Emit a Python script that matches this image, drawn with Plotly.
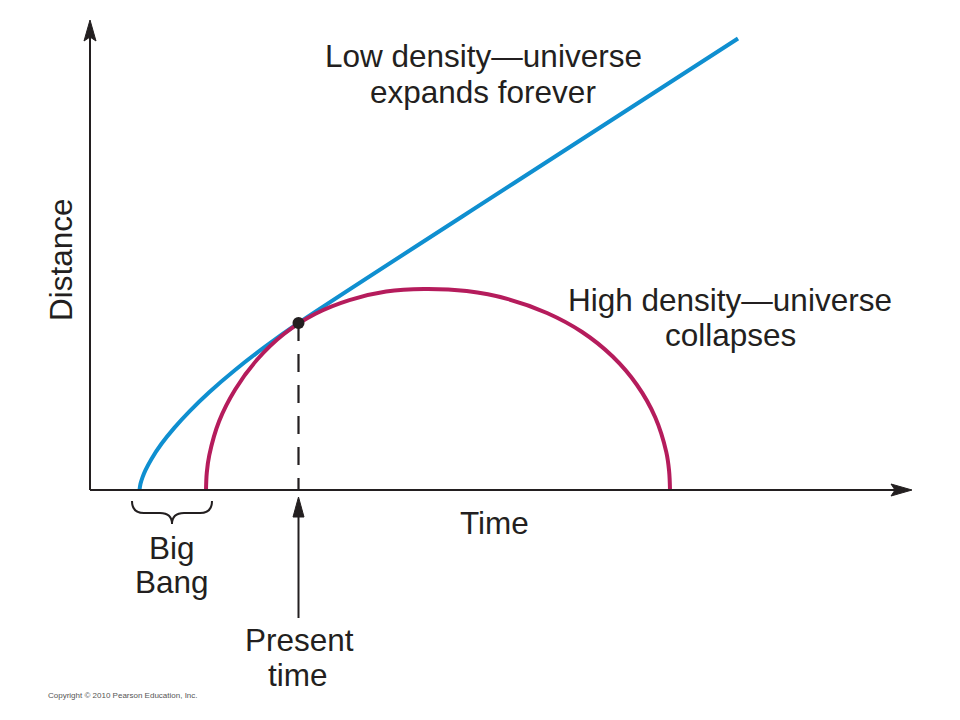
import plotly.graph_objects as go

# ---- Values (time / distance units, origin at the axes corner) ----
low_time = [49.5, 50.5, 52.5, 55.5, 61.5, 71.5, 84.5, 99.5, 119.5, 144.5, 174.5, 208.5, 428, 648]
low_dist = [0, 6.2, 12.6, 19.8, 31.1, 46.2, 62.4, 78.7, 98.0, 119.5, 142.8, 167, 309.5, 451.5]

high_time = [116, 116.8, 119.3, 129.1, 145.2, 167, 193.9, 225, 259.4, 296.1, 334,
             376.7, 418.1, 457, 492.1, 522.4, 547, 565.2, 576.3, 579.1, 580]
high_dist = [0, 17.5, 34.9, 68.7, 100.5, 130.2, 156, 176, 189.9, 198.4, 201,
             198.9, 190.9, 177, 158, 133.7, 105, 72.7, 37.9, 19, 0]

present_time = 208.5
present_dist = 167
big_bang_span = [42, 122]

time_axis_end = 822
dist_axis_end = 470

labels_low = ["Low density—universe", "expands forever"]
labels_high = ["High density—universe", "collapses"]
label_time = "Time"
label_dist = "Distance"
labels_bigbang = ["Big", "Bang"]
labels_present = ["Present", "time"]
copyright_text = "Copyright © 2010 Pearson Education, Inc."

INK = "#231f20"
BLUE = "#0f8fd0"
RED = "#b51c5c"
FONT = "Liberation Sans, Arial, Helvetica, sans-serif"
FS = 31.5

fig = go.Figure()

fig.add_trace(go.Scatter(x=low_time, y=low_dist, mode="lines",
                         line=dict(color=BLUE, width=4, shape="spline", smoothing=0.8),
                         hoverinfo="skip"))
fig.add_trace(go.Scatter(x=high_time, y=high_dist, mode="lines",
                         line=dict(color=RED, width=4, shape="spline", smoothing=1.0),
                         hoverinfo="skip"))

# dashed drop line from present point
fig.add_trace(go.Scatter(x=[present_time, present_time], y=[present_dist, 0], mode="lines",
                         line=dict(color=INK, width=2.2, dash="18px,13px"),
                         hoverinfo="skip"))
fig.add_trace(go.Scatter(x=[present_time], y=[present_dist], mode="markers",
                         marker=dict(color=INK, size=12), hoverinfo="skip"))

shapes = []
# axes
shapes.append(dict(type="line", x0=0, y0=0, x1=time_axis_end - 16, y1=0,
                   line=dict(color=INK, width=2)))
shapes.append(dict(type="path",
                   path=f"M {time_axis_end-21},6 L {time_axis_end},0 L {time_axis_end-21},-6 L {time_axis_end-17},0 Z",
                   fillcolor=INK, line=dict(color=INK, width=1)))
shapes.append(dict(type="line", x0=0, y0=0, x1=0, y1=dist_axis_end - 16,
                   line=dict(color=INK, width=2)))
shapes.append(dict(type="path",
                   path=f"M -6,{dist_axis_end-21} L 0,{dist_axis_end} L 6,{dist_axis_end-21} L 0,{dist_axis_end-17} Z",
                   fillcolor=INK, line=dict(color=INK, width=1)))
# present time arrow
shapes.append(dict(type="line", x0=present_time, y0=-128, x1=present_time, y1=-22,
                   line=dict(color=INK, width=2)))
shapes.append(dict(type="path",
                   path=f"M {present_time-5.5},-27 L {present_time},-7 L {present_time+5.5},-27 Z",
                   fillcolor=INK, line=dict(color=INK, width=1)))
# Big Bang brace
bl, br = big_bang_span
bm = (bl + br) / 2
shapes.append(dict(type="path",
                   path=(f"M {bl},-11 Q {bl},-23 {bl+12},-23 L {bm-12},-23 "
                         f"Q {bm},-23 {bm},-34 Q {bm},-23 {bm+12},-23 "
                         f"L {br-12},-23 Q {br},-23 {br},-11"),
                   line=dict(color=INK, width=2)))

fig.update_layout(shapes=shapes)

def txt(x, y, s, size=FS, **kw):
    fig.add_annotation(x=x, y=y, text=s, showarrow=False, xanchor=kw.pop("xanchor", "center"),
                       yanchor="middle", font=dict(family=FONT, size=size, color=kw.pop("color", INK)),
                       **kw)

txt(393, 434, labels_low[0])
txt(392.5, 398, labels_low[1])
txt(639.5, 190, labels_high[0])
txt(640, 155, labels_high[1])
txt(404, -33, label_time)
txt(-29, 230, label_dist, textangle=-90)
txt(82, -58, labels_bigbang[0])
txt(82, -92, labels_bigbang[1])
txt(209, -150, labels_present[0])
txt(208, -185, labels_present[1])
txt(-44, -205, copyright_text, size=8, xanchor="left", color="#555555")

# page body has an 8px margin: figure is 952x712 and ranges offset so 1 unit = 1 px
fig.update_layout(
    width=952, height=712,
    margin=dict(l=0, r=0, t=0, b=0),
    paper_bgcolor="white", plot_bgcolor="white",
    showlegend=False, hovermode=False, dragmode=False,
    xaxis=dict(range=[-82, 870], visible=False, fixedrange=True),
    yaxis=dict(range=[-230, 482], visible=False, fixedrange=True),
)

fig.write_html("out.html", config={"displayModeBar": False, "staticPlot": True})
